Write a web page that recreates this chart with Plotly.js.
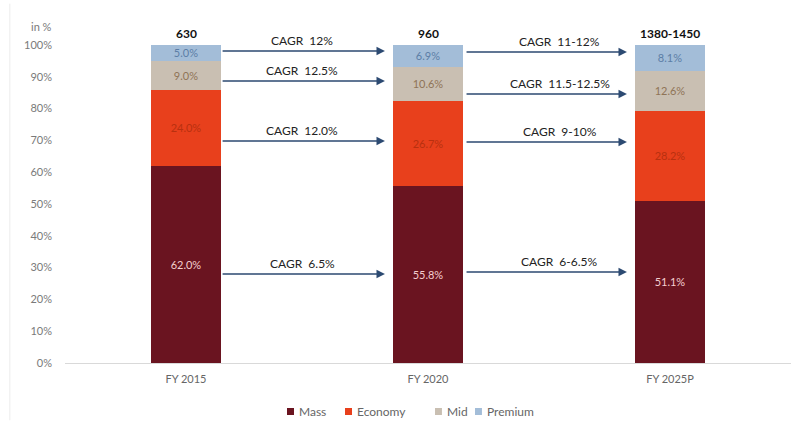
<!DOCTYPE html>
<html>
<head>
<meta charset="utf-8">
<script src="https://cdn.plot.ly/plotly-3.0.1.min.js"></script>
<style>html,body{margin:0;padding:0;background:#fff;}#chart{width:795px;height:422px;}</style>
</head>
<body>
<div id="chart"></div>
<script>
// ---- data ----
var categories = ["FY 2015", "FY 2020", "FY 2025P"];
var mass = [62.0, 55.8, 51.1];
var economy = [24.0, 26.7, 28.2];
var mid = [9.0, 10.6, 12.6];
var premium = [5.0, 6.9, 8.1];
var totals = ["630", "960", "1380-1450"];
var cagrFirst = ["CAGR  12%", "CAGR  12.5%", "CAGR  12.0%", "CAGR  6.5%"];
var cagrSecond = ["CAGR  11-12%", "CAGR  11.5-12.5%", "CAGR  9-10%", "CAGR  6-6.5%"];
var yTicks = [0,10,20,30,40,50,60,70,80,90,100];

// ---- styling / positions ----
var FONT = "Lato, 'Open Sans', sans-serif";
function pct(a){ return a.map(function(v){ return v.toFixed(1) + "%"; }); }
function bar(name, vals, color, txtColor){
  return {type:"bar", name:name, x:categories, y:vals, marker:{color:color},
    text:pct(vals), textposition:"inside", insidetextanchor:"middle",
    textfont:{family:FONT, size:11, color:txtColor}, hoverinfo:"skip", width:0.29,
    showlegend:false};
}
var seriesColors = ["#6A1420", "#E8401C", "#C9BFB2", "#A3BDD8"];
var traces = [
  bar("Mass", mass, seriesColors[0], "#F4CFCF"),
  bar("Economy", economy, seriesColors[1], "#B8300F"),
  bar("Mid", mid, seriesColors[2], "#8F7457"),
  bar("Premium", premium, seriesColors[3], "#5C7EA6")
];

var annotations = [];
var shapes = [];
// totals
categories.forEach(function(c,i){
  annotations.push({x:c, y:100, xref:"x", yref:"y", text:"<b>"+totals[i]+"</b>", showarrow:false,
    yanchor:"bottom", yshift:2, font:{family:FONT, size:12, color:"#111"}});
});
// arrows
var arrowY1 = [98.1, 88.7, 69.8, 28.0];
var arrowY2 = [97.8, 84.6, 69.5, 28.6];
var seg1 = [0.145, 0.822], seg2 = [1.153, 1.822], txt1 = 0.48, txt2 = 1.545;
function addArrows(labels, ys, seg, tx){
  labels.forEach(function(lbl,k){
    annotations.push({x:seg[1], y:ys[k], ax:seg[0], ay:ys[k], xref:"x", yref:"y", axref:"x", ayref:"y",
      text:"", showarrow:true, arrowhead:2, arrowsize:1.2, arrowwidth:1.4, arrowcolor:"#2C4A72"});
    annotations.push({x:tx, y:ys[k], xref:"x", yref:"y", text:lbl, showarrow:false,
      yanchor:"bottom", yshift:1, font:{family:FONT, size:12, color:"#222"}});
  });
}
addArrows(cagrFirst, arrowY1, seg1, txt1);
addArrows(cagrSecond, arrowY2, seg2, txt2);
annotations.push({xref:"paper", yref:"paper", x:-0.033, y:1.085, text:"in %", showarrow:false,
  xanchor:"center", font:{family:FONT, size:11, color:"#7a7a7a"}});

// custom legend (squares + labels)
var legSquareX = [0.3058, 0.3857, 0.5096, 0.5647];
var legTextX = [0.3196, 0.3994, 0.5234, 0.5785];
traces.forEach(function(t,i){
  shapes.push({type:"rect", xref:"paper", yref:"paper", x0:legSquareX[i], x1:legSquareX[i]+0.0096,
    y0:-0.1635, y1:-0.1415, fillcolor:seriesColors[i], line:{width:0}});
  annotations.push({xref:"paper", yref:"paper", x:legTextX[i], y:-0.1525, xanchor:"left", yanchor:"middle",
    text:t.name, showarrow:false, font:{family:FONT, size:12, color:"#666"}});
});
shapes.push({type:"line", xref:"paper", yref:"paper", x0:-0.076, x1:-0.076, y0:-0.18, y1:1.13,
  line:{color:"#ececec", width:1}});

var layout = {
  width:795, height:422,
  margin:{l:65, r:4, t:45, b:59, autoexpand:false},
  paper_bgcolor:"#fff", plot_bgcolor:"#fff",
  barmode:"stack",
  showlegend:false,
  uniformtext:{mode:"show", minsize:11},
  xaxis:{type:"category", range:[-0.5, 2.5], showline:true, linecolor:"#d9d9d9", linewidth:1,
    ticks:"", showgrid:false, zeroline:false, ticklabelstandoff:6, automargin:false,
    tickfont:{family:FONT, size:11, color:"#666"}},
  yaxis:{range:[0,100], tickvals:yTicks, ticktext:yTicks.map(function(v){return v+"%";}),
    showgrid:false, zeroline:false, showline:false, ticks:"", ticklabelstandoff:12, automargin:false,
    tickfont:{family:FONT, size:11, color:"#7a7a7a"}},
  annotations:annotations,
  shapes:shapes,
  font:{family:FONT}
};
Plotly.newPlot("chart", traces, layout, {displayModeBar:false, staticPlot:true});
</script>
</body>
</html>
